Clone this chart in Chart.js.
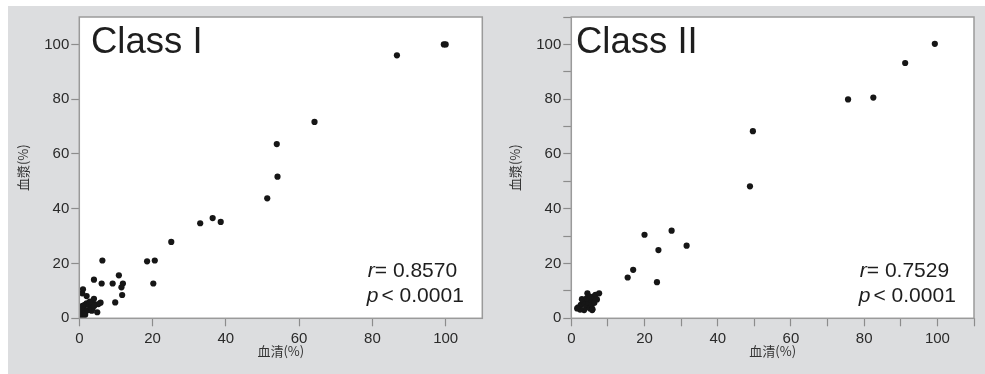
<!DOCTYPE html>
<html>
<head>
<meta charset="utf-8">
<script src="https://cdn.jsdelivr.net/npm/chart.js@4.4.1/dist/chart.umd.min.js"></script>
<style>
  html, body { margin: 0; padding: 0; background: #ffffff; }
  #bg { position: absolute; left: 8px; top: 6px; width: 977px; height: 368px; background: #dcdddf; }
  .wrap { position: absolute; top: 6px; height: 368px; }
  #w1 { left: 8px; width: 482px; }
  #w2 { left: 490px; width: 495px; }
</style>
</head>
<body>
<div id="bg"></div>
<div class="wrap" id="w1"><canvas id="c1" width="482" height="368"></canvas></div>
<div class="wrap" id="w2"><canvas id="c2" width="495" height="368"></canvas></div>
<script>
// ---- Data (serum % on x, plasma % on y) ----
const classISerum = [99.5, 100, 86.7, 64.2, 53.9, 54.1, 51.3, 36.4, 38.6, 33.0, 25.1, 18.5, 20.6, 20.2,
  6.3, 10.8, 4.0, 6.1, 9.1, 11.9, 11.5, 11.7, 9.8, 1.0, 0.8, 2.0, 4.0, 5.8, 5.2, 4.9,
  0.4, 0.2, 0.7, 1.1, 1.5, 2.0, 2.7, 3.2, 3.6, 3.4, 2.5, 1.8, 1.3, 0.6, 3.8, 4.1, 2.9, 1.5, 0.9, 0.1, 1.6];
const classIPlasma = [100, 100, 96.0, 71.7, 63.6, 51.7, 43.8, 36.6, 35.2, 34.7, 27.9, 20.8, 21.1, 12.7,
  21.1, 15.7, 14.1, 12.7, 12.7, 12.7, 11.3, 8.5, 5.8, 10.6, 9.1, 8.1, 7.1, 5.7, 5.2, 2.2,
  0.6, 1.6, 2.4, 3.6, 4.9, 5.5, 4.9, 4.2, 3.6, 2.8, 3.0, 2.7, 1.2, 3.3, 5.5, 4.6, 6.1, 1.8, 4.5, 1.2, 1.3];

const classIISerum = [99.3, 91.2, 82.5, 75.6, 49.6, 48.8, 27.4, 20.0, 31.5, 23.8, 16.9, 15.4, 23.4,
  4.4, 1.9, 2.6, 3.3, 2.9, 3.7, 4.2, 4.6, 5.1, 5.6, 5.4, 6.0, 6.6, 7.6, 6.3, 5.7, 3.5, 2.4, 4.2, 7.0, 4.8, 1.6, 5.8];
const classIIPlasma = [100.2, 93.2, 80.6, 79.9, 68.3, 48.2, 32.0, 30.5, 26.5, 24.9, 17.7, 14.9, 13.2,
  9.1, 4.0, 4.9, 6.1, 7.0, 5.2, 4.2, 5.7, 3.6, 4.9, 6.7, 7.9, 8.6, 9.1, 5.7, 3.0, 3.0, 3.2, 7.3, 6.9, 8.0, 3.6, 3.3];

const panelTitles = ['Class I', 'Class II'];
const rValues = ['0.8570', '0.7529'];
const pValues = ['0.0001', '0.0001'];
const xTitle = '血清(%)';
const yTitle = '血漿(%)';
const majorTicks = [0, 20, 40, 60, 80, 100];
const minorTicks = [0, 10, 20, 30, 40, 50, 60, 70, 80, 90, 100, 110];

const FONT = '"Liberation Sans", Arial, Helvetica, sans-serif';
const CJK = '"Noto Sans CJK JP", "Noto Sans CJK SC", sans-serif';

const framePlugin = {
  id: 'frame',
  beforeDraw(chart) {
    const a = chart.chartArea, ctx = chart.ctx;
    ctx.save();
    ctx.fillStyle = '#ffffff';
    ctx.fillRect(a.left, a.top, a.right - a.left, a.bottom - a.top);
    ctx.restore();
  },
  afterDraw(chart, args, opts) {
    const a = chart.chartArea, ctx = chart.ctx;
    ctx.save();
    ctx.strokeStyle = '#9a9a9a';
    ctx.lineWidth = 1.5;
    ctx.strokeRect(a.left, a.top, a.right - a.left, a.bottom - a.top);
    // panel title
    ctx.fillStyle = '#1e1e1e';
    ctx.textBaseline = 'alphabetic';
    ctx.textAlign = 'left';
    ctx.font = '36.5px ' + FONT;
    ctx.fillText(opts.title, a.left + opts.titleDx, a.top + 36);
    // statistics
    const sx = a.left + 288.5;
    ctx.font = 'italic 21px ' + FONT;
    ctx.fillText('r', sx, a.bottom - 41.5);
    let w = ctx.measureText('r').width;
    ctx.font = '21px ' + FONT;
    ctx.fillText('= ' + opts.r, sx + w, a.bottom - 41.5);
    ctx.font = 'italic 21px ' + FONT;
    ctx.fillText('p', sx - 1, a.bottom - 16.5);
    w = ctx.measureText('p').width;
    ctx.font = '21px ' + FONT;
    ctx.fillText('< ' + opts.p, sx - 1 + w + 3, a.bottom - 16.5);
    ctx.restore();
  }
};

function makeChart(id, xs, ys, idx, yAxisWidth, rightPad, minor) {
  const pts = xs.map((x, i) => ({ x: x, y: ys[i] }));
  const tickList = minor ? minorTicks : majorTicks;
  const labelFn = v => (majorTicks.includes(v) ? String(v) : '');
  const axisCommon = (isX) => ({
    type: 'linear',
    min: 0,
    max: 110,
    afterBuildTicks: s => { s.ticks = tickList.map(v => ({ value: v })); },
    afterFit: s => { if (isX) s.height = 55.7; else s.width = yAxisWidth; },
    ticks: {
      autoSkip: false,
      maxRotation: 0,
      color: '#2a2a2a',
      font: { family: FONT, size: 15 },
      padding: isX ? 4 : 2,
      callback: labelFn
    },
    grid: {
      drawOnChartArea: false,
      drawTicks: true,
      tickLength: 8,
      tickColor: '#8c8c8c',
      tickWidth: 1.2
    },
    border: { display: false },
    title: {
      display: true,
      text: isX ? xTitle : yTitle,
      color: '#333333',
      font: { family: CJK, size: 13 },
      padding: isX ? { top: 0, bottom: 15 } : { top: 7 + (yAxisWidth - 71.3), bottom: 0 }
    }
  });
  return new Chart(document.getElementById(id), {
    type: 'scatter',
    data: {
      datasets: [{
        data: pts,
        backgroundColor: '#161616',
        borderColor: '#161616',
        pointRadius: 3.1,
        pointBorderWidth: 0,
        pointHoverRadius: 3.1
      }]
    },
    options: {
      responsive: false,
      animation: false,
      events: [],
      layout: { padding: { top: 10, right: rightPad, left: 0, bottom: 0 } },
      scales: { x: axisCommon(true), y: axisCommon(false) },
      plugins: {
        legend: { display: false },
        tooltip: { enabled: false },
        frame: { title: panelTitles[idx], titleDx: idx === 0 ? 11.7 : 4.7, r: rValues[idx], p: pValues[idx] }
      }
    },
    plugins: [framePlugin]
  });
}

makeChart('c1', classISerum, classIPlasma, 0, 71.3, 7.7, false);
makeChart('c2', classIISerum, classIIPlasma, 1, 81.3, 11, true);
</script>
</body>
</html>
